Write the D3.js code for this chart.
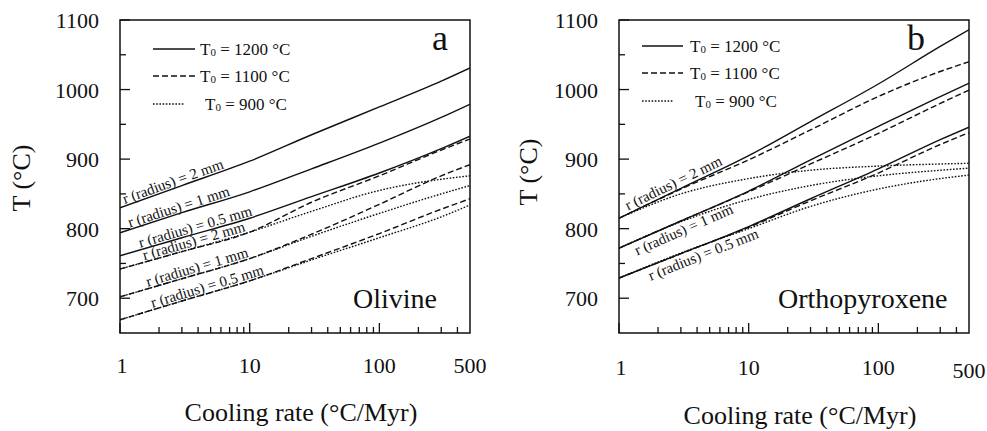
<!DOCTYPE html>
<html>
<head>
<meta charset="utf-8">
<script src="https://cdn.jsdelivr.net/npm/d3@7"></script>
<style>
  body { margin: 0; background: #fff; }
  text { font-family: "Liberation Serif", "Times New Roman", serif; fill: #111; }
</style>
</head>
<body>
<svg id="chart" width="987" height="431"></svg>
<script>
// cooling rates (°C/Myr) where the curves were read
const rates = [1, 3, 10, 30, 100, 300, 500];

// (a) Olivine, closure temperature T (°C)
const olT1200_2 = [830, 862, 897, 935, 975, 1012, 1031];
const olT1200_1 = [794, 823, 853, 886, 923, 960, 979];
const olT1200_05 = [761, 787, 815, 846, 880, 915, 933];
const olT1100_2 = [742, 767, 795, 838, 876, 913, 929];
const olT1100_1 = [702, 728, 757, 792, 835, 876, 892];
const olT1100_05 = [669, 696, 725, 757, 793, 828, 843];
const olT900_2 = [742, 767, 795, 825, 855, 871, 876];
const olT900_1 = [702, 728, 757, 789, 822, 850, 862];
const olT900_05 = [669, 696, 725, 755, 787, 817, 834];

// (b) Orthopyroxene
const opxT1200_2 = [815, 858, 905, 954, 1008, 1062, 1086];
const opxT1200_1 = [772, 811, 854, 899, 947, 990, 1009];
const opxT1200_05 = [729, 764, 803, 843, 886, 928, 946];
const opxT1100_2 = [815, 857, 899, 942, 990, 1026, 1040];
const opxT1100_1 = [772, 811, 853, 893, 937, 980, 999];
const opxT1100_05 = [729, 764, 802, 840, 880, 921, 938];
const opxT900_2 = [815, 850, 872, 884, 890, 893, 894];
const opxT900_1 = [772, 810, 842, 862, 876, 884, 887];
const opxT900_05 = [729, 765, 800, 832, 857, 872, 877];

const yTicks = [700, 800, 900, 1000, 1100];
const yMinorTicks = [750, 850, 950, 1050];
const xTicks = [1, 10, 100];
const xMinorTicks = [2, 3, 4, 5, 6, 7, 8, 9, 20, 30, 40, 50, 60, 70, 80, 90, 200, 300, 400];
const xTickLabels = [1, 10, 100, 500];
const legendLabels = ["1200 °C", "1100 °C", "900 °C"];
const radiusLabels = ["r (radius) = 2 mm", "r (radius) = 1 mm", "r (radius) = 0.5 mm"];

const svg = d3.select("#chart");
svg.append("rect").attr("width", 987).attr("height", 431).attr("fill", "#fff");

const dashes = { solid: null, dashed: "6,3", dotted: "1.6,1.6" };

const panels = [
  {
    id: "a", left: 120, right: 470, xlab: 373, xtitle: 421, ytitleX: 30, ytitleY: 178,
    mineral: "Olivine", mineralX: 353, letterX: 432,
    series: [
      { v: olT1200_2, s: "solid" }, { v: olT1200_1, s: "solid" }, { v: olT1200_05, s: "solid" },
      { v: olT1100_2, s: "dashed" }, { v: olT1100_1, s: "dashed" }, { v: olT1100_05, s: "dashed" },
      { v: olT900_2, s: "dotted" }, { v: olT900_1, s: "dotted" }, { v: olT900_05, s: "dotted" }
    ],
    labels: [
      { v: olT1200_2, t: radiusLabels[0], at: 1.1, off: -2 },
      { v: olT1200_1, t: radiusLabels[1], at: 1.2, off: -2 },
      { v: olT1200_05, t: radiusLabels[2], at: 1.45, off: -2 },
      { v: olT900_2, t: radiusLabels[0], at: 1.55, off: -2 },
      { v: olT900_1, t: radiusLabels[1], at: 1.65, off: -2 },
      { v: olT900_05, t: radiusLabels[2], at: 1.8, off: -2 }
    ],
    legend: { x0: 153, tx: [200, 200, 205], y: [49, 76, 104], ends: [195, 195, 185] }
  },
  {
    id: "b", left: 619, right: 969, xlab: 375, xtitle: 424, ytitleX: 537, ytitleY: 172,
    mineral: "Orthopyroxene", mineralX: 778, letterX: 907,
    series: [
      { v: opxT1200_2, s: "solid" }, { v: opxT1200_1, s: "solid" }, { v: opxT1200_05, s: "solid" },
      { v: opxT1100_2, s: "dashed" }, { v: opxT1100_1, s: "dashed" }, { v: opxT1100_05, s: "dashed" },
      { v: opxT900_2, s: "dotted" }, { v: opxT900_1, s: "dotted" }, { v: opxT900_05, s: "dotted" }
    ],
    labels: [
      { v: opxT1200_2, t: radiusLabels[0], at: 1.2, off: -3 },
      { v: opxT1200_1, t: radiusLabels[1], at: 1.25, off: 14 },
      { v: opxT1200_05, t: radiusLabels[2], at: 1.6, off: 14 }
    ],
    legend: { x0: 642, tx: [690, 690, 695], y: [46, 73, 101], ends: [683, 683, 673] }
  }
];

const plotTop = 20, plotBottom = 333;
const y = d3.scaleLinear().domain([650, 1100]).range([plotBottom, plotTop]);
const styles = ["solid", "dashed", "dotted"];

panels.forEach(p => {
  const x = d3.scaleLog().domain([1, 500]).range([p.left, p.right]);
  const g = svg.append("g");

  g.append("clipPath").attr("id", "clip-" + p.id)
    .append("rect").attr("x", p.left).attr("y", plotTop)
    .attr("width", p.right - p.left).attr("height", plotBottom - plotTop);

  // curves
  const line = d3.line().x(d => x(d[0])).y(d => y(d[1])).curve(d3.curveMonotoneX);
  const curves = g.append("g").attr("clip-path", `url(#clip-${p.id})`);
  p.series.forEach(s => {
    curves.append("path")
      .datum(d3.zip(rates, s.v))
      .attr("d", line)
      .attr("fill", "none")
      .attr("stroke", "#111")
      .attr("stroke-width", 1.4)
      .attr("stroke-dasharray", dashes[s.s]);
  });

  // frame
  g.append("rect").attr("x", p.left).attr("y", plotTop)
    .attr("width", p.right - p.left).attr("height", plotBottom - plotTop)
    .attr("fill", "none").attr("stroke", "#111").attr("stroke-width", 1.5);

  // y axis ticks (inside)
  yTicks.forEach(v => {
    g.append("line").attr("x1", p.left).attr("x2", p.left + 10)
      .attr("y1", y(v)).attr("y2", y(v)).attr("stroke", "#111").attr("stroke-width", 1.3);
    g.append("text").attr("x", p.left - 21).attr("y", y(v) + 8)
      .attr("text-anchor", "end").attr("font-size", 22).text(v);
  });
  yMinorTicks.forEach(v => {
    g.append("line").attr("x1", p.left).attr("x2", p.left + 6)
      .attr("y1", y(v)).attr("y2", y(v)).attr("stroke", "#111").attr("stroke-width", 1.3);
  });

  // x axis ticks (inside)
  xTicks.forEach(v => {
    g.append("line").attr("x1", x(v)).attr("x2", x(v))
      .attr("y1", plotBottom).attr("y2", plotBottom - 10).attr("stroke", "#111").attr("stroke-width", 1.3);
  });
  xMinorTicks.forEach(v => {
    g.append("line").attr("x1", x(v)).attr("x2", x(v))
      .attr("y1", plotBottom).attr("y2", plotBottom - 6).attr("stroke", "#111").attr("stroke-width", 1.3);
  });
  xTickLabels.forEach(v => {
    g.append("text").attr("x", x(v) + (v === 1 ? 2 : 0)).attr("y", p.xlab + (p.id === "b" && v === 500 ? 3 : 0))
      .attr("text-anchor", "middle").attr("font-size", 22).text(v);
  });

  // axis titles
  g.append("text").attr("x", (p.left + p.right) / 2 + 6).attr("y", p.xtitle)
    .attr("text-anchor", "middle").attr("font-size", 26).text("Cooling rate (°C/Myr)");
  g.append("text").attr("transform", `translate(${p.ytitleX},${p.ytitleY}) rotate(-90)`)
    .attr("text-anchor", "middle").attr("font-size", 26).text("T (°C)");

  // panel letter and mineral name
  g.append("text").attr("x", p.letterX).attr("y", 50).attr("font-size", 36).text(p.id);
  g.append("text").attr("x", p.mineralX).attr("y", 308).attr("font-size", 28).text(p.mineral);

  // radius labels laid along their curve
  const logRates = rates.map(Math.log10);
  const yAt = (vals, r) => {
    const lr = Math.log10(r);
    const i = Math.min(rates.length - 1, Math.max(1, d3.bisectLeft(logRates, lr)));
    const a = logRates[i - 1], b = logRates[i];
    return vals[i - 1] + (vals[i] - vals[i - 1]) * (lr - a) / (b - a);
  };
  p.labels.forEach(l => {
    const x1 = x(l.at), y1 = y(yAt(l.v, l.at));
    const x2 = x(l.at * 5), y2 = y(yAt(l.v, l.at * 5));
    const ang = Math.atan2(y2 - y1, x2 - x1) * 180 / Math.PI;
    g.append("text")
      .attr("transform", `translate(${x1},${y1}) rotate(${ang})`)
      .attr("dy", l.off).attr("font-size", 15).text(l.t);
  });

  // legend
  styles.forEach((s, i) => {
    const lg = p.legend;
    g.append("line").attr("x1", lg.x0).attr("x2", lg.ends[i])
      .attr("y1", lg.y[i]).attr("y2", lg.y[i])
      .attr("stroke", "#111").attr("stroke-width", 1.3)
      .attr("stroke-dasharray", dashes[s]);
    const t = g.append("text").attr("x", lg.tx[i]).attr("y", lg.y[i] + 6).attr("font-size", 17);
    t.append("tspan").text("T");
    t.append("tspan").attr("font-size", 11).attr("dy", 1).text("0");
    t.append("tspan").attr("dy", -1).text(" = " + legendLabels[i]);
  });
});
</script>
</body>
</html>
